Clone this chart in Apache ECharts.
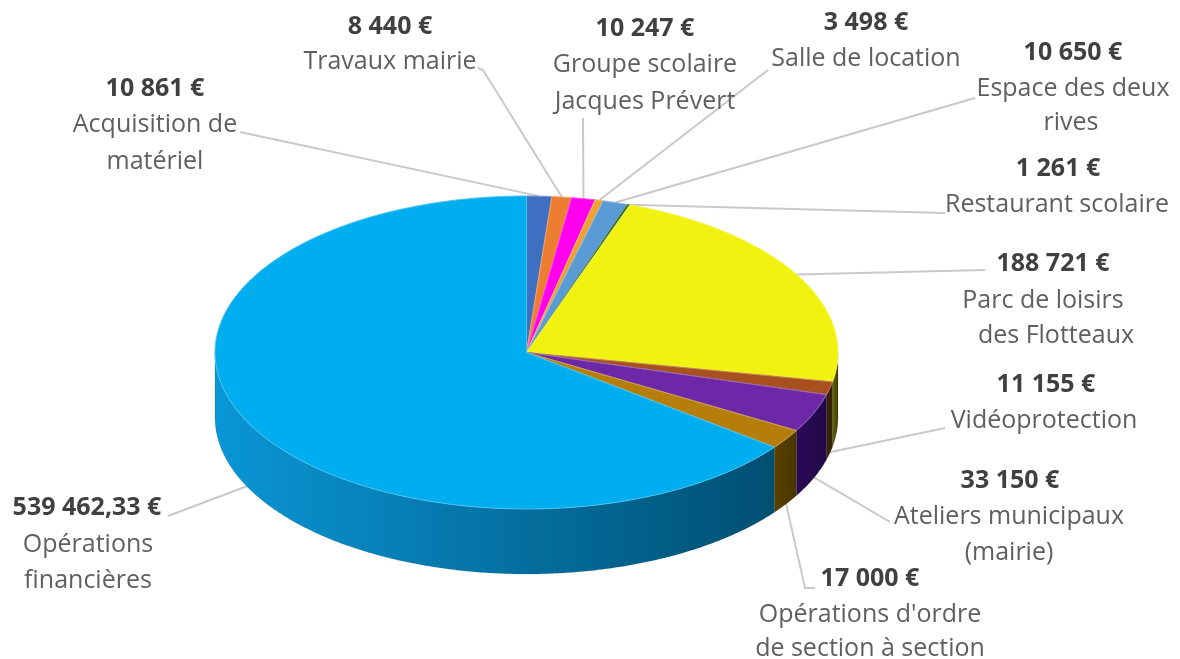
<!DOCTYPE html>
<html>
<head>
<meta charset="utf-8">
<title>Investissements</title>
<style>
  html, body { margin: 0; padding: 0; background: #fff; }
  #main { width: 1180px; height: 659px; }
</style>
<script src="https://cdn.jsdelivr.net/npm/echarts@6/dist/echarts.min.js"></script>
</head>
<body>
<div id="main"></div>
<script>
// clockwise from 12 o'clock
const values = [10861, 8440, 10247, 3498, 10650, 1261, 188721, 11155, 33150, 17000, 539462.33]
const nameLines = [
  ['Acquisition de', 'matériel'],
  ['Travaux mairie'],
  ['Groupe scolaire', 'Jacques Prévert'],
  ['Salle de location'],
  ['Espace des deux', 'rives'],
  ['Restaurant scolaire'],
  ['Parc de loisirs', 'des Flotteaux'],
  ['Vidéoprotection'],
  ['Ateliers municipaux', '(mairie)'],
  ["Opérations d'ordre", 'de section à section'],
  ['Opérations', 'financières']
]

const topColors = ['#3f6fc1', '#ed7d31', '#ff00ee', '#f0a030', '#5b9bd5', '#2e6b2e', '#f2f210', '#a8501e', '#6c28a6', '#b57e0a', '#00adef']
const sideColors = [
  ['#24417a', '#24417a'], ['#8f4a1c', '#8f4a1c'], ['#990090', '#990090'], ['#90601c', '#90601c'],
  ['#365d80', '#365d80'], ['#1b401b', '#1b401b'], ['#6e6e08', '#3d3400'], ['#3a2400', '#33200a'],
  ['#2a0a58', '#220848'], ['#5c4200', '#4a3500'], ['#0a96d6', '#004f72']
]

// pixel layout of the text lines: first line is the amount, then the name lines
const labelLayout = [
  [[155, 89], [155, 125], [155, 162]],
  [[390, 27], [390, 62]],
  [[645, 29], [645, 65], [645, 102]],
  [[866, 23], [866, 59]],
  [[1073, 53], [1073, 89], [1071, 123]],
  [[1058, 169], [1057, 205]],
  [[1053, 264], [1043, 301], [1056, 336]],
  [[1046, 385], [1044, 421]],
  [[1010, 481], [1009, 517], [1009, 553]],
  [[870, 579], [870, 615], [870, 649]],
  [[87, 508], [88, 545], [88, 581]]
]
// outer ends of the leader lines, from the pie outwards
const leaderEnds = [
  [[240, 132]],
  [[483, 70], [478, 68]],
  [[583, 118]],
  [[768, 70]],
  [[975, 98]],
  [[945, 213]],
  [[985, 270]],
  [[945, 428]],
  [[890, 522]],
  [[805, 588], [815, 588]],
  [[168, 516]]
]

const depth = 65
const fontName = 'Open Sans'

const total = values.reduce((a, b) => a + b, 0)
let running = 0
const sliceData = values.map((v, i) => {
  const start = running / total * 360
  running += v
  return [start, running / total * 360, i]
})

function formatAmount(v) {
  const parts = String(v).split('.')
  const whole = parts[0].replace(/\B(?=(\d{3})+$)/g, ' ')
  return whole + (parts[1] ? ',' + parts[1] : '') + ' €'
}

function rimPoint(api, deg) {
  const rad = deg * Math.PI / 180
  return api.coord([Math.sin(rad), Math.cos(rad)])
}

function arcPoints(api, from, to) {
  const pts = []
  for (let a = from; a < to; a += 0.5) {
    pts.push(rimPoint(api, a))
  }
  pts.push(rimPoint(api, to))
  return pts
}

function renderSide(params, api) {
  const i = api.value(2)
  const from = Math.max(api.value(0), 90)
  const to = Math.min(api.value(1), 270)
  if (to <= from) return null
  const upper = arcPoints(api, from, to)
  const lower = upper.map(p => [p[0], p[1] + depth]).reverse()
  return {
    type: 'polygon',
    shape: { points: upper.concat(lower) },
    style: {
      fill: new echarts.graphic.LinearGradient(1, 0, 0, 0, [
        { offset: 0, color: sideColors[i][1] },
        { offset: 1, color: sideColors[i][0] }
      ]),
      stroke: 'rgba(0,0,0,0.2)',
      lineWidth: 0.5
    }
  }
}

function renderTop(params, api) {
  const i = api.value(2)
  const pts = arcPoints(api, api.value(0), api.value(1))
  pts.unshift(api.coord([0, 0]))
  return {
    type: 'polygon',
    shape: { points: pts },
    style: {
      fill: topColors[i],
      stroke: echarts.color.lift(topColors[i], 0.3),
      lineWidth: 1,
      lineJoin: 'round'
    }
  }
}

function renderLeader(params, api) {
  const i = api.value(2)
  const mid = (api.value(0) + api.value(1)) / 2
  const p = rimPoint(api, mid)
  // front slices: the line lands on the lower edge of the wall
  const y = mid > 90 && mid < 270 ? p[1] + depth - 1 : p[1]
  return {
    type: 'polyline',
    shape: { points: [[p[0], y]].concat(leaderEnds[i]) },
    style: { stroke: '#c9c9c9', lineWidth: 2, fill: null }
  }
}

function renderLabel(params, api) {
  const i = api.value(2)
  const lines = [formatAmount(values[i])].concat(nameLines[i])
  return {
    type: 'group',
    children: lines.map((line, k) => ({
      type: 'text',
      x: labelLayout[i][k][0],
      y: labelLayout[i][k][1],
      style: {
        text: line,
        align: 'center',
        verticalAlign: 'middle',
        fontFamily: fontName,
        fontSize: 25,
        fontWeight: k === 0 ? 'bold' : 'normal',
        fill: k === 0 ? '#404040' : '#5f5f5f'
      }
    }))
  }
}

const chart = echarts.init(document.getElementById('main'))

const customBase = { type: 'custom', data: sliceData, clip: false, silent: true, encode: { x: 0, y: 1 } }

chart.setOption({
  animation: false,
  backgroundColor: '#fff',
  grid: { left: 215, top: 196, width: 623, height: 313 },
  xAxis: { type: 'value', min: -1, max: 1, show: false },
  yAxis: { type: 'value', min: -1, max: 1, show: false },
  series: [
    Object.assign({ name: 'leaders', renderItem: renderLeader }, customBase),
    Object.assign({ name: 'walls', renderItem: renderSide }, customBase),
    Object.assign({ name: 'slices', renderItem: renderTop }, customBase),
    Object.assign({ name: 'labels', renderItem: renderLabel }, customBase)
  ]
})
</script>
</body>
</html>
